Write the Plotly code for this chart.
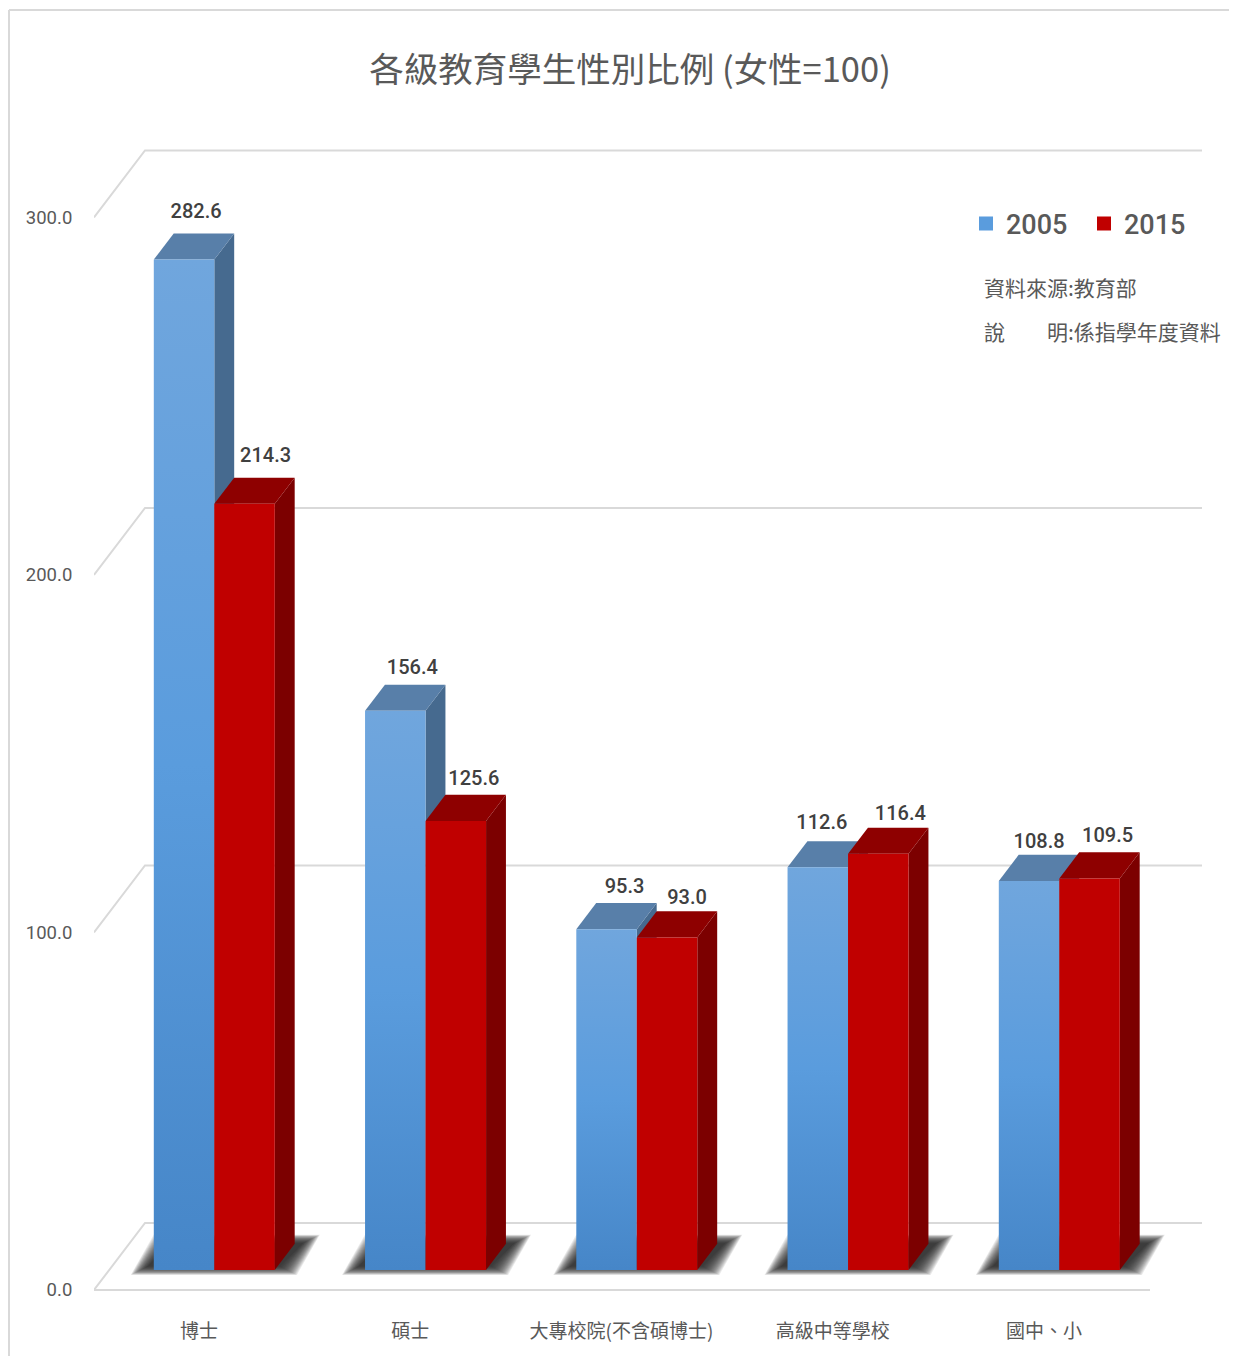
import plotly.graph_objects as go

# ---- data ----
categories = ["博士", "碩士", "大專校院(不含碩博士)", "高級中等學校", "國中、小"]
series_names = ["2005", "2015"]
values_2005 = [282.6, 156.4, 95.3, 112.6, 108.8]
values_2015 = [214.3, 125.6, 93.0, 116.4, 109.5]
y_ticks = [0, 100, 200, 300]
y_tick_labels = ["0.0", "100.0", "200.0", "300.0"]
label_nudge_2005 = [12, 17, 18, 4, 10]
label_nudge_2015 = [21, 18, 20, 22, 18]
label_lift_2005 = [47, 42, 41, 43, 38]
label_lift_2015 = [47, 41, 38, 39, 41]

TITLE = "各級教育學生性別比例 (女性=100)"
NOTE_1 = "資料來源:教育部"
NOTE_2 = "說　　明:係指學年度資料"

# ---- geometry / style ----
W, H = 1237, 1364
PAD = 8
PL, PR, PT, PB = 94, 1229, 120, 1300
FLOOR_Y = 1290
GRID_R = 1202
CAT_PX, VAL_PX = 211.25, 3.575
X0 = (94 - 199) / CAT_PX
X1 = (PR - 199) / CAT_PX
X_GRID_END = (GRID_R - 199) / CAT_PX
X_FRONT_END = (1150 - 199) / CAT_PX
YMIN = (FLOOR_Y - PB) / VAL_PX
YTOP = (FLOOR_Y - PT) / VAL_PX
DX, DY = 51 / CAT_PX, 67 / VAL_PX
BAR_W = 60.5 / CAT_PX
D_FRONT, D_BACK = 0.3, 0.69
GREY = "#d9d9d9"
NUM = "Roboto"
CJK = "Noto Sans CJK TC"
TXT = "#595959"


def px(xp):
    return (xp - PL) / (PR - PL)


def py(yp):
    return (PB - yp) / (PB - PT)


def pt(x, v, d):
    """project a point of category pos x, value v, depth d (0 front .. 1 back)"""
    return x + d * DX, v + d * DY


def poly(points):
    xs = [p[0] for p in points] + [points[0][0]]
    ys = [p[1] for p in points] + [points[0][1]]
    return xs, ys


fig = go.Figure()


def add_line(xs, ys):
    fig.add_trace(go.Scatter(x=xs, y=ys, mode="lines", line=dict(color=GREY, width=2),
                             hoverinfo="skip", showlegend=False, cliponaxis=False))


for t in y_ticks:
    add_line([X0, X0 + DX, X_GRID_END], [t, t + DY, t + DY])
add_line([X0, X_FRONT_END], [0, 0])

# soft shadows on the floor (stacked translucent layers give the blur)
for i in range(len(categories)):
    for k in range(20):
        e = 10 - k * 0.9
        gv = e * 0.5 / VAL_PX
        left = i - BAR_W - (13 + e) / CAT_PX
        right = i + BAR_W + (12 + e) / CAT_PX
        xs, ys = poly([pt(left, -gv, D_FRONT), pt(right, -gv, D_FRONT),
                       pt(right, gv, 0.75), pt(left, gv, 0.75)])
        fig.add_trace(go.Scatter(x=xs, y=ys, mode="lines", line=dict(width=0), fill="toself",
                                 fillcolor="rgba(40,40,40,0.1)", hoverinfo="skip",
                                 showlegend=False, cliponaxis=False))


def add_bar(x_l, x_r, v, front_scale, top_col, side_col):
    f0 = pt(x_l, 0, D_FRONT)
    f1 = pt(x_r, 0, D_FRONT)
    f2 = pt(x_r, v, D_FRONT)
    f3 = pt(x_l, v, D_FRONT)
    b1 = pt(x_r, 0, D_BACK)
    b2 = pt(x_r, v, D_BACK)
    b3 = pt(x_l, v, D_BACK)
    for pts, col in (([f1, b1, b2, f2], side_col), ([f3, f2, b2, b3], top_col)):
        xs, ys = poly(pts)
        fig.add_trace(go.Scatter(x=xs, y=ys, mode="lines", line=dict(width=0), fill="toself",
                                 fillcolor=col, hoverinfo="skip", showlegend=False, cliponaxis=False))
    xs, ys = poly([f0, f1, f2, f3])
    fill = dict(fillcolor=front_scale) if isinstance(front_scale, str) else dict(
        fillgradient=dict(type="vertical", colorscale=front_scale))
    fig.add_trace(go.Scatter(x=xs, y=ys, mode="lines", line=dict(width=0), fill="toself",
                             hoverinfo="skip", showlegend=False, cliponaxis=False, **fill))


BLUE_SCALE = [[0, "#4686c8"], [0.5, "#5a9cdd"], [1, "#70a6dd"]]
for i, (a, b) in enumerate(zip(values_2005, values_2015)):
    add_bar(i - BAR_W, i, a, BLUE_SCALE, "#587fa9", "#466a8f")
    add_bar(i, i + BAR_W, b, "#c00000", "#8e0000", "#7c0000")

# data labels
for vals, nudge, lift, off in ((values_2005, label_nudge_2005, label_lift_2005, -BAR_W / 2),
                               (values_2015, label_nudge_2015, label_lift_2015, BAR_W / 2)):
    fig.add_trace(go.Scatter(
        x=[i + off + D_FRONT * DX + n / CAT_PX for i, n in enumerate(nudge)],
        y=[v + D_FRONT * DY + l / VAL_PX for v, l in zip(vals, lift)],
        mode="text", text=[f"{v:.1f}" for v in vals], textposition="middle center",
        textfont=dict(family=NUM, size=20, color="#404040", weight=500),
        hoverinfo="skip", showlegend=False, cliponaxis=False))

# legend entries
for name, col in zip(series_names, ("#5a9cdd", "#c00000")):
    marker = dict(symbol="square", size=19, color=col, line=dict(width=3, color=col))
    fig.add_trace(go.Scatter(x=[None], y=[None], mode="markers", name=name, marker=marker))

fig.update_layout(
    width=W - 2 * PAD, height=H - 2 * PAD, autosize=False,
    margin=dict(l=PL - PAD, r=W - PAD - PR, t=PT - PAD, b=H - PAD - PB),
    paper_bgcolor="white", plot_bgcolor="rgba(0,0,0,0)",
    font=dict(family=CJK, color=TXT),
    title=dict(text=TITLE, font=dict(family=CJK, size=34.5, color=TXT),
               x=(630 - PAD) / (W - 2 * PAD), xanchor="center",
               y=1 - (70 - PAD) / (H - 2 * PAD), yanchor="middle"),
    legend=dict(orientation="h", x=px(966), xanchor="left", y=py(224), yanchor="middle",
                entrywidth=73, entrywidthmode="pixels", itemsizing="constant",
                font=dict(family=NUM, size=27, color=TXT, weight=500), bgcolor="rgba(0,0,0,0)"),
    xaxis=dict(range=[X0, X1], tickmode="array", tickvals=list(range(len(categories))),
               ticktext=categories, ticks="outside", ticklen=14, tickcolor="rgba(0,0,0,0)",
               showgrid=False, zeroline=False, showline=False,
               tickfont=dict(family=CJK, size=19, color=TXT), tickangle=0),
    yaxis=dict(range=[YMIN, YTOP], tickmode="array", tickvals=y_ticks, ticktext=y_tick_labels,
               ticks="outside", ticklen=17, tickcolor="rgba(0,0,0,0)",
               showgrid=False, zeroline=False, showline=False,
               tickfont=dict(family=NUM, size=18.5, color=TXT)),
    shapes=[dict(type="line", xref="paper", yref="paper", x0=px(9), x1=px(9), y0=py(1356), y1=py(10),
                 line=dict(color=GREY, width=2)),
            dict(type="line", xref="paper", yref="paper", x0=px(9), x1=px(1229), y0=py(10), y1=py(10),
                 line=dict(color=GREY, width=2))],
    annotations=[dict(text=NOTE_1, xref="paper", yref="paper", x=px(982), y=py(287), xanchor="left",
                      yanchor="middle", showarrow=False, font=dict(family=CJK, size=21, color=TXT)),
                 dict(text=NOTE_2, xref="paper", yref="paper", x=px(982), y=py(331), xanchor="left",
                      yanchor="middle", showarrow=False, font=dict(family=CJK, size=21, color=TXT))],
)

fig.write_html("out.html")
